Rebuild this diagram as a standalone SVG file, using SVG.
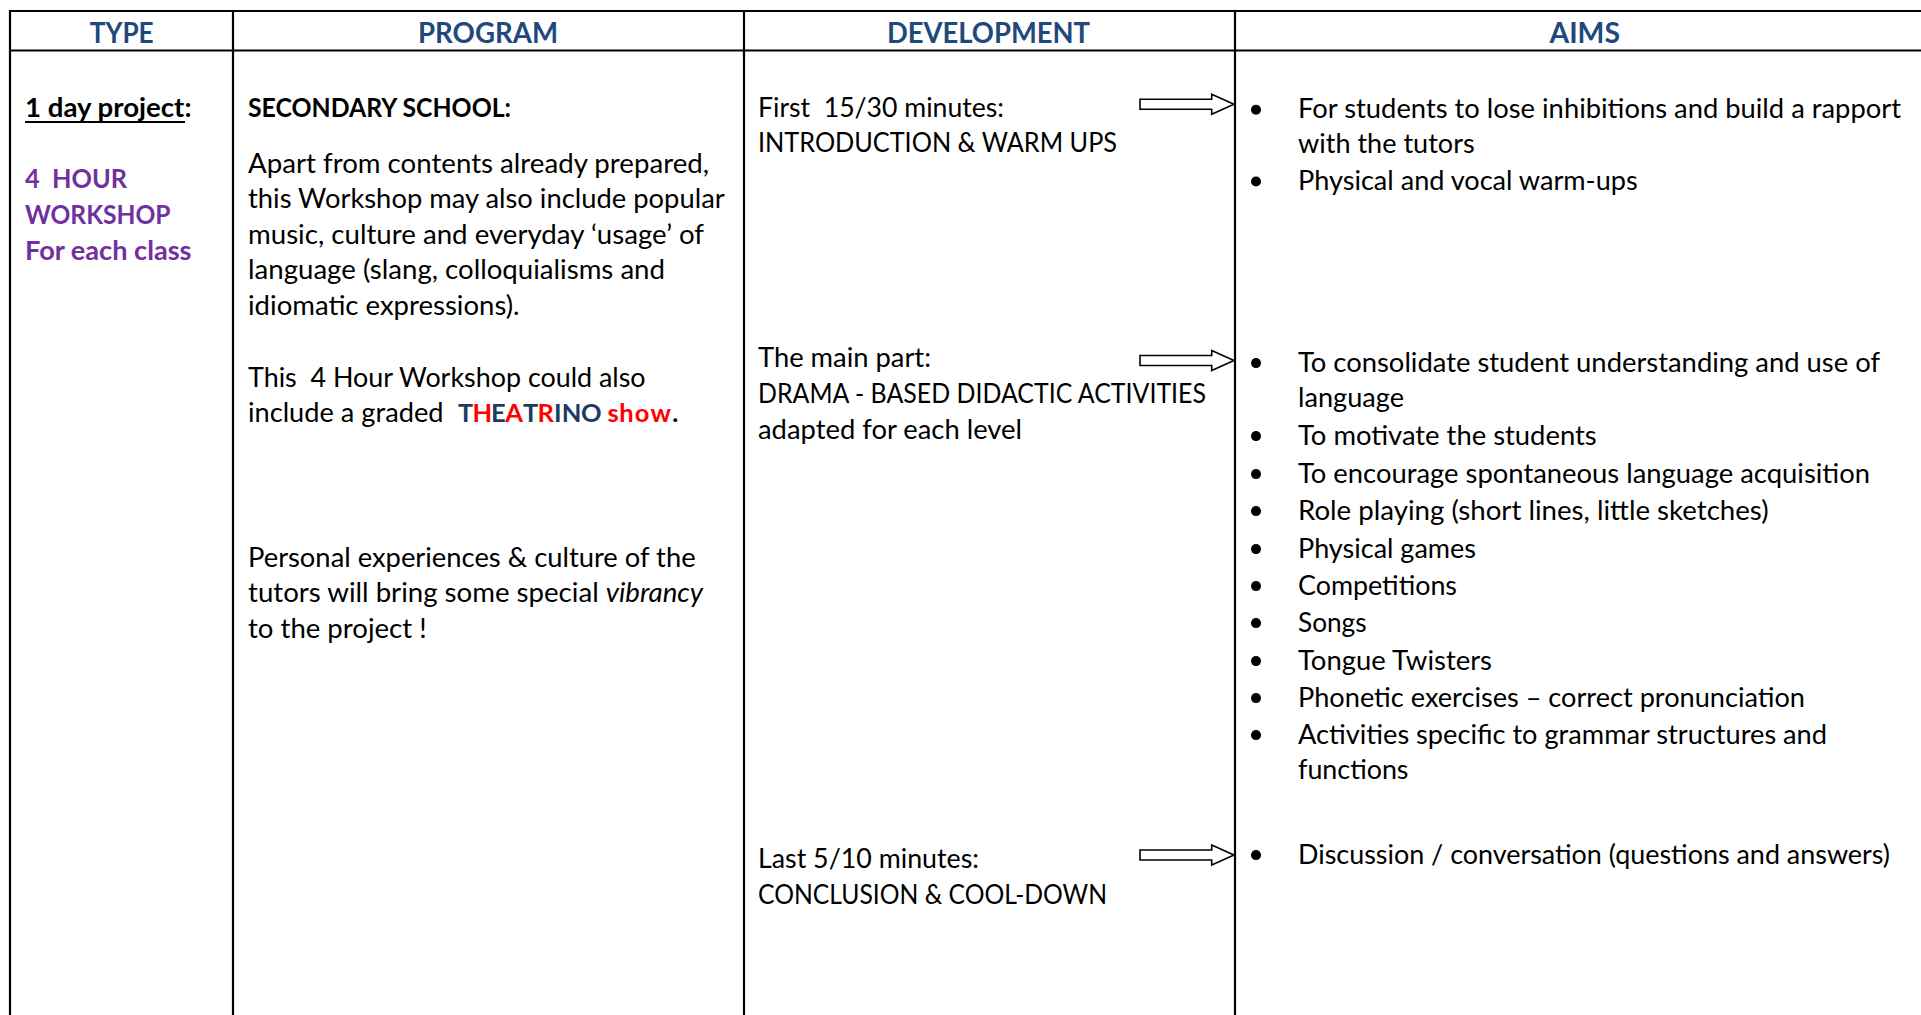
<svg xmlns="http://www.w3.org/2000/svg" xmlns:xlink="http://www.w3.org/1999/xlink" width="1921" height="1015" viewBox="0 0 1921 1015">
<style>
text{font-family:Lato,"Liberation Sans",sans-serif;font-size:27.2px;fill:#000;white-space:pre}
.h{font-weight:bold;fill:#1F497D;font-size:28px}
.b{font-weight:bold}
.p{font-weight:bold;fill:#7030A0}
.grid{stroke:#000;stroke-width:2.2;fill:none}
.arrow{fill:#fff;stroke:#000;stroke-width:1.6;stroke-linejoin:miter}
.bul{fill:#000}
</style>
<defs>
<path id="arr" d="M0,-5 H71.7 V-10 L94,0 L71.7,10 V5 H0 Z"/>
<linearGradient id="thg" gradientUnits="userSpaceOnUse" x1="458" y1="0" x2="690" y2="0">
<stop offset="0" stop-color="#1F3864"/><stop offset="0.06233" stop-color="#1F3864"/>
<stop offset="0.06233" stop-color="#FF0000"/><stop offset="0.14198" stop-color="#FF0000"/>
<stop offset="0.14198" stop-color="#1F3864"/><stop offset="0.20366" stop-color="#1F3864"/>
<stop offset="0.20366" stop-color="#FF0000"/><stop offset="0.28043" stop-color="#FF0000"/>
<stop offset="0.28043" stop-color="#1F3864"/><stop offset="0.34276" stop-color="#1F3864"/>
<stop offset="0.34276" stop-color="#FF0000"/><stop offset="0.41375" stop-color="#FF0000"/>
<stop offset="0.41375" stop-color="#1F3864"/><stop offset="0.61569" stop-color="#1F3864"/>
<stop offset="0.61569" stop-color="#FF0000"/><stop offset="0.92392" stop-color="#FF0000"/>
<stop offset="0.92392" stop-color="#000000"/><stop offset="1" stop-color="#000000"/>
</linearGradient>
</defs>
<rect width="1921" height="1015" fill="#fff"/>
<g id="table" class="grid">
<line x1="9" y1="11" x2="1921" y2="11"/>
<line x1="9" y1="50.5" x2="1921" y2="50.5"/>
<line x1="10" y1="10" x2="10" y2="1015"/>
<line x1="233" y1="10" x2="233" y2="1015"/>
<line x1="744" y1="10" x2="744" y2="1015"/>
<line x1="1235" y1="10" x2="1235" y2="1015"/>
</g>
<g id="headers" transform="translate(0,1)">
<text class="h" x="89.7" y="41.5" textLength="64" lengthAdjust="spacingAndGlyphs">TYPE</text>
<text class="h" x="418" y="41.5" textLength="140" lengthAdjust="spacingAndGlyphs">PROGRAM</text>
<text class="h" x="887" y="41.5" textLength="203" lengthAdjust="spacingAndGlyphs">DEVELOPMENT</text>
<text class="h" x="1549.5" y="41.5" textLength="70.5" lengthAdjust="spacingAndGlyphs">AIMS</text>
</g>
<g id="type" transform="translate(0,1.5)">
<text class="b" x="25" y="115" textLength="166.5" lengthAdjust="spacingAndGlyphs">1 day project:</text>
<line x1="25" y1="120.5" x2="185" y2="120.5" stroke="#000" stroke-width="1.8"/>
<text class="p" x="25" y="186.7" textLength="102" lengthAdjust="spacingAndGlyphs">4  HOUR</text>
<text class="p" x="25" y="222.3" textLength="145.6" lengthAdjust="spacingAndGlyphs">WORKSHOP</text>
<text class="p" x="25" y="258.3" textLength="166.5" lengthAdjust="spacingAndGlyphs">For each class</text>
</g>
<g id="program" transform="translate(0,1.5)">
<text class="b" x="248" y="115" textLength="263" lengthAdjust="spacingAndGlyphs">SECONDARY SCHOOL:</text>
<text x="248" y="171" textLength="461" lengthAdjust="spacingAndGlyphs">Apart from contents already prepared,</text>
<text x="248" y="206.7" textLength="476.7" lengthAdjust="spacingAndGlyphs">this Workshop may also include popular</text>
<text x="248" y="242.3" textLength="456" lengthAdjust="spacingAndGlyphs">music, culture and everyday ‘usage’ of</text>
<text x="248" y="277.8" textLength="417" lengthAdjust="spacingAndGlyphs">language (slang, colloquialisms and</text>
<text x="248" y="313.3" textLength="271.6" lengthAdjust="spacingAndGlyphs">idiomatic expressions).</text>
<text x="248" y="385" textLength="397.6" lengthAdjust="spacingAndGlyphs">This  4 Hour Workshop could also</text>
<text x="248" y="420.7" textLength="195.5" lengthAdjust="spacingAndGlyphs">include a graded</text>
<text class="b" x="458 472.46 490.94 505.25 523.06 537.52 553.99 561.8 581.01 600.84 607.5 619.13 634.81 650.55 672.35" y="420.7" fill="url(#thg)" style="fill:url(#thg);font-size:25.5px">THEATRINO show.</text>
<text x="248" y="565" textLength="447.6" lengthAdjust="spacingAndGlyphs">Personal experiences &amp; culture of the</text>
<text x="248" y="600.7" textLength="455" lengthAdjust="spacingAndGlyphs">tutors will bring some special <tspan font-style="italic">vibrancy</tspan></text>
<text x="248" y="636" textLength="178.6" lengthAdjust="spacingAndGlyphs">to the project !</text>
</g>
<g id="development" transform="translate(0,1.5)">
<text x="758" y="115" textLength="246" lengthAdjust="spacingAndGlyphs">First  15/30 minutes:</text>
<text x="758" y="150" textLength="359" lengthAdjust="spacingAndGlyphs">INTRODUCTION &amp; WARM UPS</text>
<text x="758" y="365.7" textLength="173" lengthAdjust="spacingAndGlyphs">The main part:</text>
<text x="758" y="401.5" textLength="448" lengthAdjust="spacingAndGlyphs">DRAMA - BASED DIDACTIC ACTIVITIES</text>
<text x="758" y="437" textLength="264" lengthAdjust="spacingAndGlyphs">adapted for each level</text>
<text x="758" y="866" textLength="221" lengthAdjust="spacingAndGlyphs">Last 5/10 minutes:</text>
<text x="758" y="902" textLength="349" lengthAdjust="spacingAndGlyphs">CONCLUSION &amp; COOL-DOWN</text>
</g>
<g id="connectors">
<use xlink:href="#arr" href="#arr" class="arrow" transform="translate(1140,104.3)"/>
<use xlink:href="#arr" href="#arr" class="arrow" transform="translate(1140,360.5)"/>
<use xlink:href="#arr" href="#arr" class="arrow" transform="translate(1140,855)"/>
</g>
<g id="aims" transform="translate(0,1.5)">
<circle class="bul" cx="1256" cy="108.3" r="5"/>
<text x="1298" y="116.7" textLength="603" lengthAdjust="spacingAndGlyphs">For students to lose inhibitions and build a rapport</text>
<text x="1298" y="151.7" textLength="176.6" lengthAdjust="spacingAndGlyphs">with the tutors</text>
<circle class="bul" cx="1256" cy="180" r="5"/>
<text x="1298" y="188.3" textLength="339.7" lengthAdjust="spacingAndGlyphs">Physical and vocal warm-ups</text>
<circle class="bul" cx="1256" cy="361.6" r="5"/>
<text x="1298" y="370" textLength="582" lengthAdjust="spacingAndGlyphs">To consolidate student understanding and use of</text>
<text x="1298" y="405" textLength="106" lengthAdjust="spacingAndGlyphs">language</text>
<circle class="bul" cx="1256" cy="434.6" r="5"/>
<text x="1298" y="443" textLength="298.7" lengthAdjust="spacingAndGlyphs">To motivate the students</text>
<circle class="bul" cx="1256" cy="472.6" r="5"/>
<text x="1298" y="481" textLength="572" lengthAdjust="spacingAndGlyphs">To encourage spontaneous language acquisition</text>
<circle class="bul" cx="1256" cy="509.6" r="5"/>
<text x="1298" y="518" textLength="470.6" lengthAdjust="spacingAndGlyphs">Role playing (short lines, little sketches)</text>
<circle class="bul" cx="1256" cy="547.6" r="5"/>
<text x="1298" y="556" textLength="178" lengthAdjust="spacingAndGlyphs">Physical games</text>
<circle class="bul" cx="1256" cy="584.6" r="5"/>
<text x="1298" y="593" textLength="159" lengthAdjust="spacingAndGlyphs">Competitions</text>
<circle class="bul" cx="1256" cy="621.6" r="5"/>
<text x="1298" y="630" textLength="68.6" lengthAdjust="spacingAndGlyphs">Songs</text>
<circle class="bul" cx="1256" cy="659.6" r="5"/>
<text x="1298" y="668" textLength="194" lengthAdjust="spacingAndGlyphs">Tongue Twisters</text>
<circle class="bul" cx="1256" cy="696.6" r="5"/>
<text x="1298" y="705" textLength="507" lengthAdjust="spacingAndGlyphs">Phonetic exercises – correct pronunciation</text>
<circle class="bul" cx="1256" cy="733.6" r="5"/>
<text x="1298" y="742" textLength="529" lengthAdjust="spacingAndGlyphs">Activities specific to grammar structures and</text>
<text x="1298" y="777" textLength="110.5" lengthAdjust="spacingAndGlyphs">functions</text>
<circle class="bul" cx="1256" cy="853.6" r="5"/>
<text x="1298" y="862" textLength="592" lengthAdjust="spacingAndGlyphs">Discussion / conversation (questions and answers)</text>
</g>
</svg>
